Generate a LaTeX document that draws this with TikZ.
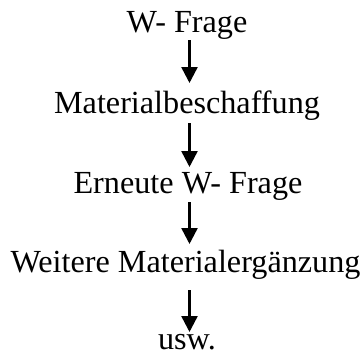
\documentclass[tikz,border=0pt]{standalone}
\usepackage{fontspec}
\setmainfont{Liberation Serif}
\usetikzlibrary{arrows.meta,calc}
\tikzset{
  stage/.style={anchor=base, inner sep=0pt, font=\fontsize{32.2bp}{38bp}\selectfont},
  flow/.style={line width=2.5bp, -{Triangle[width=16bp,length=16bp]}}
}
\begin{document}
\begin{tikzpicture}[x=1bp, y=-1bp]
  \useasboundingbox (0,0) rectangle (364,356);
  \coordinate (col) at (189.5,0);
  % the five stages, top to bottom
  \node[stage] (n1) at (187,32)    {W- Frage};
  \node[stage] (n2) at (187,113)   {Materialbeschaffung};
  \node[stage] (n3) at (188,193)   {Erneute W- Frage};
  \node[stage] (n4) at (185.5,272) {Weitere Materialergänzung};
  \node[stage] (n5) at (187,349)   {usw.};
  % arrows between consecutive stages
  \draw[flow] ($(n1.base -| col)+(0,8)$)  -- ($(n2.base -| col)+(0,-30)$);
  \draw[flow] ($(n2.base -| col)+(0,10)$) -- ($(n3.base -| col)+(0,-26)$);
  \draw[flow] ($(n3.base -| col)+(0,9)$)  -- ($(n4.base -| col)+(0,-28)$);
  \draw[flow] ($(n4.base -| col)+(0,18)$) -- ($(n5.base -| col)+(0,-17)$);
\end{tikzpicture}
\end{document}
